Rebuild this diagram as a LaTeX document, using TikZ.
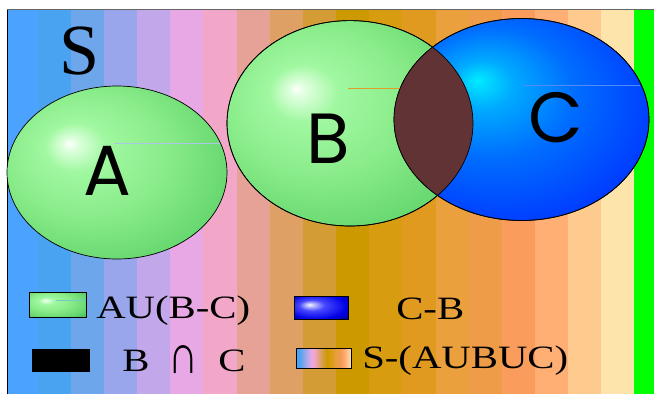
\documentclass[tikz,border=0pt]{standalone}
\usepackage{fontspec}
\setmainfont{Liberation Serif}
\newfontfamily\geofont{Poppins}
\usetikzlibrary{shapes.geometric}
\definecolor{s1}{RGB}{76,162,255}
\definecolor{s2}{RGB}{74,163,240}
\definecolor{s3}{RGB}{110,166,236}
\definecolor{s4}{RGB}{154,166,236}
\definecolor{s5}{RGB}{194,168,234}
\definecolor{s6}{RGB}{232,168,230}
\definecolor{s7}{RGB}{242,166,200}
\definecolor{s8}{RGB}{230,162,150}
\definecolor{s9}{RGB}{222,160,100}
\definecolor{s10}{RGB}{212,156,52}
\definecolor{s11}{RGB}{204,153,0}
\definecolor{s12}{RGB}{216,156,16}
\definecolor{s13}{RGB}{224,154,32}
\definecolor{s14}{RGB}{234,160,60}
\definecolor{s15}{RGB}{238,156,72}
\definecolor{s16}{RGB}{250,156,92}
\definecolor{s17}{RGB}{255,174,116}
\definecolor{s18}{RGB}{255,202,142}
\definecolor{s19}{RGB}{252,228,170}
\definecolor{sgreen}{RGB}{0,255,0}
\definecolor{lenscol}{RGB}{98,51,53}
\definecolor{gW}{RGB}{225,255,225}
\definecolor{gA}{RGB}{160,248,160}
\definecolor{gB}{RGB}{138,236,138}
\definecolor{gC}{RGB}{104,216,112}
\definecolor{gD}{RGB}{64,184,96}
\definecolor{bA}{RGB}{0,235,255}
\definecolor{bB}{RGB}{0,170,255}
\definecolor{bC}{RGB}{0,110,255}
\definecolor{bD}{RGB}{0,60,255}
\definecolor{bE}{RGB}{0,20,240}
\definecolor{lbA}{RGB}{200,200,255}
\definecolor{lbB}{RGB}{70,70,255}
\definecolor{lbC}{RGB}{0,0,230}
\definecolor{lbD}{RGB}{0,0,150}
\pgfdeclareradialshading{greenball}{\pgfpoint{-11bp}{8.5bp}}{color(0bp)=(white); color(1.5bp)=(gW); color(7bp)=(gA); color(18bp)=(gB); color(30bp)=(gC); color(39bp)=(gD); color(50bp)=(gD)}
\pgfdeclareradialshading{blueball}{\pgfpoint{-8.7bp}{9.8bp}}{color(0bp)=(bA); color(6bp)=(bB); color(16bp)=(bC); color(30bp)=(bD); color(40bp)=(bE); color(50bp)=(bE)}
\pgfdeclareradialshading{bluebox}{\pgfpoint{-11bp}{6.4bp}}{color(0bp)=(white); color(3bp)=(lbA); color(12bp)=(lbB); color(28bp)=(lbC); color(38bp)=(lbD); color(50bp)=(lbD)}
\pgfdeclarehorizontalshading{stripesh}{100bp}{color(0bp)=(s1); color(25bp)=(s1); color(27.78bp)=(s2); color(30.56bp)=(s3); color(33.33bp)=(s4); color(36.11bp)=(s5); color(38.89bp)=(s6); color(41.67bp)=(s7); color(44.44bp)=(s8); color(47.22bp)=(s9); color(50bp)=(s10); color(52.78bp)=(s11); color(55.56bp)=(s12); color(58.33bp)=(s13); color(61.11bp)=(s14); color(63.89bp)=(s15); color(66.67bp)=(s16); color(69.44bp)=(s17); color(72.22bp)=(s18); color(75bp)=(s19); color(100bp)=(s19)}
\tikzset{
  setshape/.style={ellipse, draw=black, line width=0.7pt, inner sep=0pt},
  setlabel/.style={font=\geofont\fontsize{71}{80}\selectfont, inner sep=0pt, anchor=base},
  legtext/.style={font=\fontsize{32.6}{36}\selectfont, inner sep=0pt, anchor=base west, xscale=1.25},
  legbox/.style={draw=black, line width=0.6pt, inner sep=0pt},
  artline/.style={line width=0.5pt}
}
\begin{document}
\begin{tikzpicture}[x=1pt,y=-1pt]
\useasboundingbox (0,0) rectangle (654,394);
\fill[white] (0,0) rectangle (654,394);
% background stripes
\fill[s1] (7.3,9.5) rectangle (38.0,394);
\foreach \c [count=\i from 0] in {s2,s3,s4,s5,s6,s7,s8,s9,s10,s11,s12,s13,s14,s15,s16,s17,s18,s19}
  \fill[\c] ({37.7+33.15*\i},9.5) rectangle ({37.7+33.15*(\i+1)+0.3},394);
\fill[sgreen] (634.4,9.5) rectangle (654,394);
\coordinate (tl) at (7.3,9.5);
\coordinate (tr) at (654,9.5);
\coordinate (bl) at (7.3,394);
\draw[gray!80!black, line width=0.8pt] (tl) -- (tr);
\draw[black, line width=0.8pt] (tl) -- (bl);
% universe label
\node[font=\fontsize{72}{80}\selectfont, inner sep=0pt, anchor=base] (S) at (80,74) {S};
% sets
\node[setshape, shading=greenball, minimum width=220pt, minimum height=173pt] (A) at (117,172.5) {};
\node[setshape, shading=greenball, minimum width=246pt, minimum height=205.4pt] (B) at (350,123.3) {};
\node[setshape, shading=blueball, minimum width=255pt, minimum height=202pt] (C) at (521.5,119.5) {};
\draw[artline, color={rgb,255:red,170;green,200;blue,230}] (114,143.3) -- (220,143.3);
\draw[artline, color={rgb,255:red,224;green,160;blue,40}] (348,88) -- (401,88);
\draw[artline, color={rgb,255:red,80;green,140;blue,255}] (523,85) -- (640,85);
% intersection B and C
\begin{scope}
  \clip (B.center) ellipse [x radius=123pt, y radius=102.7pt];
  \fill[lenscol] (C.center) ellipse [x radius=127.5pt, y radius=101pt];
\end{scope}
\draw[line width=0.7pt] (B.center) ellipse [x radius=123pt, y radius=102.7pt];
\draw[line width=0.7pt] (C.center) ellipse [x radius=127.5pt, y radius=101pt];
% set labels
\node[setlabel] (Alab) at (107.5,195) {A};
\node[setlabel] (Blab) at (328.5,163) {B};
\node[setlabel] (Clab) at (555.5,142) {C};
% legend
\node[legbox, shading=greenball, minimum width=57pt, minimum height=25pt] (k1) at (57.5,304.5) {};
\draw[artline, color={rgb,255:red,120;green,200;blue,200}] (56,300) -- (85,300);
\node[legtext] (t1) at (96,318.3) {AU(B-C)};
\node[legbox, shading=bluebox, minimum width=54pt, minimum height=23pt] (k2) at (321,307.5) {};
\node[legtext] (t2) at (396,319) {C-B};
\node[legbox, fill=black, minimum width=57pt, minimum height=22pt] (k3) at (60.5,360) {};
\node[legtext] (t3a) at (122,371) {B};
\node[inner sep=0pt] (t3b) at (183.5,359.5) {\resizebox*{30pt}{28pt}{\fontsize{24}{26}\selectfont ∩}};
\node[legtext] (t3c) at (218,371) {C};
\node[legbox, shading=stripesh, minimum width=55pt, minimum height=20pt] (k4) at (323.5,358) {};
\node[legtext] (t4) at (362,368.3) {S-(AUBUC)};
\end{tikzpicture}
\end{document}
